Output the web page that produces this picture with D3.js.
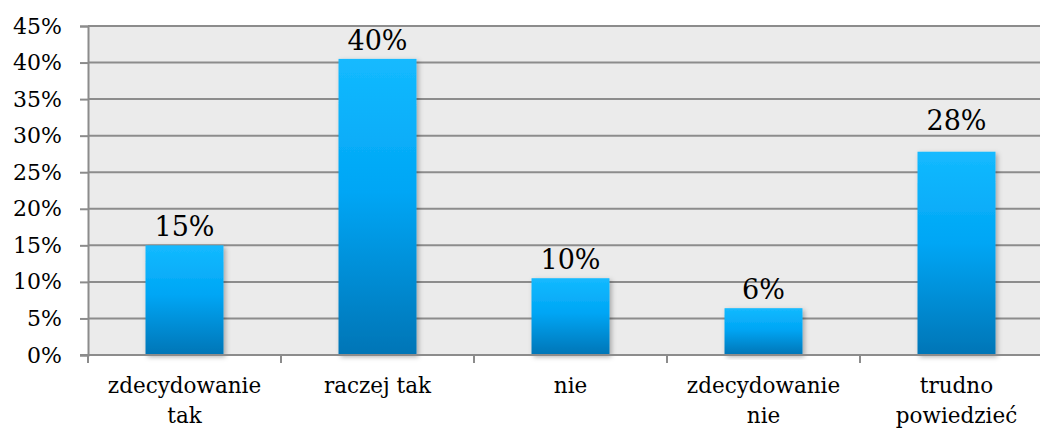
<!DOCTYPE html>
<html>
<head>
<meta charset="utf-8">
<script src="https://cdn.jsdelivr.net/npm/d3@7"></script>
<style>
  body { margin: 0; background: #fff; }
  svg text { font-family: 'DejaVu Serif', 'Liberation Serif', serif; fill: #000; }
</style>
</head>
<body>
<svg id="chart" width="1040" height="432"></svg>
<script>
const categories = [['zdecydowanie', 'tak'], ['raczej tak'], ['nie'], ['zdecydowanie', 'nie'], ['trudno', 'powiedzieć']];
const values = [0.150, 0.405, 0.105, 0.064, 0.278];
const labels = ['15%', '40%', '10%', '6%', '28%'];
const yTicks = [0, 0.05, 0.10, 0.15, 0.20, 0.25, 0.30, 0.35, 0.40, 0.45];

// plot runs past the right edge of the window, like the original export
const margin = {top: 26, left: 88},
      width = 965,
      height = 355 - margin.top;

const svg = d3.select('#chart');

const defs = svg.append('defs');
const grad = defs.append('linearGradient')
  .attr('id', 'barGrad')
  .attr('x1', 0).attr('y1', 0).attr('x2', 0).attr('y2', 1);
grad.append('stop').attr('offset', '0%').attr('stop-color', '#14baff');
grad.append('stop').attr('offset', '45%').attr('stop-color', '#00a6f5');
grad.append('stop').attr('offset', '100%').attr('stop-color', '#0075b6');

const shadow = defs.append('filter').attr('id', 'shadow')
  .attr('x', '-20%').attr('y', '-10%').attr('width', '140%').attr('height', '120%');
shadow.append('feDropShadow')
  .attr('dx', 2).attr('dy', 2).attr('stdDeviation', 2.5)
  .attr('flood-color', '#000').attr('flood-opacity', 0.3);

const g = svg.append('g').attr('transform', `translate(${margin.left},${margin.top})`);

const x = d3.scaleBand()
  .domain(d3.range(categories.length))
  .range([0, width])
  .paddingInner(0.596)
  .paddingOuter(0.298);

const y = d3.scaleLinear()
  .domain([0, 0.45])
  .range([height, 0]);

// plot background
g.append('rect')
  .attr('width', width).attr('height', height)
  .attr('fill', '#ebebeb');

// y axis
const yAxis = g.append('g')
  .call(d3.axisLeft(y).tickValues(yTicks).tickFormat(d3.format('.0%')).tickSize(8).tickPadding(18));
yAxis.select('.domain').attr('stroke', '#8c8c8c').attr('stroke-width', 2);
yAxis.selectAll('.tick line').attr('stroke', '#8c8c8c').attr('stroke-width', 2);
yAxis.selectAll('.tick text').attr('font-size', 22).attr('font-family', "'DejaVu Serif', serif");

// grid
g.append('g').selectAll('line')
  .data(yTicks.slice(1))
  .enter().append('line')
  .attr('x1', 0).attr('x2', width)
  .attr('y1', d => y(d)).attr('y2', d => y(d))
  .attr('stroke', '#8c8c8c').attr('stroke-width', 2);

// bars
g.selectAll('rect.bar')
  .data(values)
  .enter().append('rect')
  .attr('class', 'bar')
  .attr('x', (d, i) => x(i))
  .attr('y', d => y(d))
  .attr('width', x.bandwidth())
  .attr('height', d => height - y(d))
  .attr('fill', 'url(#barGrad)')
  .attr('filter', 'url(#shadow)');

// value labels (the last one was dragged up a bit in the original)
g.selectAll('text.val')
  .data(values)
  .enter().append('text')
  .attr('class', 'val')
  .attr('x', (d, i) => x(i) + x.bandwidth() / 2)
  .attr('y', (d, i) => y(d) - (i === 4 ? 22 : 9))
  .attr('text-anchor', 'middle')
  .attr('font-size', 27)
  .text((d, i) => labels[i]);

// x axis
const step = x.step();
const xAxis = g.append('g').attr('transform', `translate(0,${height})`);
xAxis.append('line')
  .attr('x1', -8).attr('x2', width)
  .attr('stroke', '#8c8c8c').attr('stroke-width', 2);
xAxis.selectAll('line.tk')
  .data(d3.range(categories.length + 1))
  .enter().append('line')
  .attr('class', 'tk')
  .attr('x1', d => d * step).attr('x2', d => d * step)
  .attr('y1', 0).attr('y2', 8)
  .attr('stroke', '#8c8c8c').attr('stroke-width', 2);

const catText = xAxis.selectAll('text.cat')
  .data(categories)
  .enter().append('text')
  .attr('class', 'cat')
  .attr('text-anchor', 'middle')
  .attr('font-size', 21.5)
  .attr('transform', (d, i) => `translate(${x(i) + x.bandwidth() / 2},0)`);
catText.selectAll('tspan')
  .data(d => d)
  .enter().append('tspan')
  .attr('x', 0)
  .attr('y', (d, i) => 38 + i * 30)
  .text(d => d);
</script>
</body>
</html>
